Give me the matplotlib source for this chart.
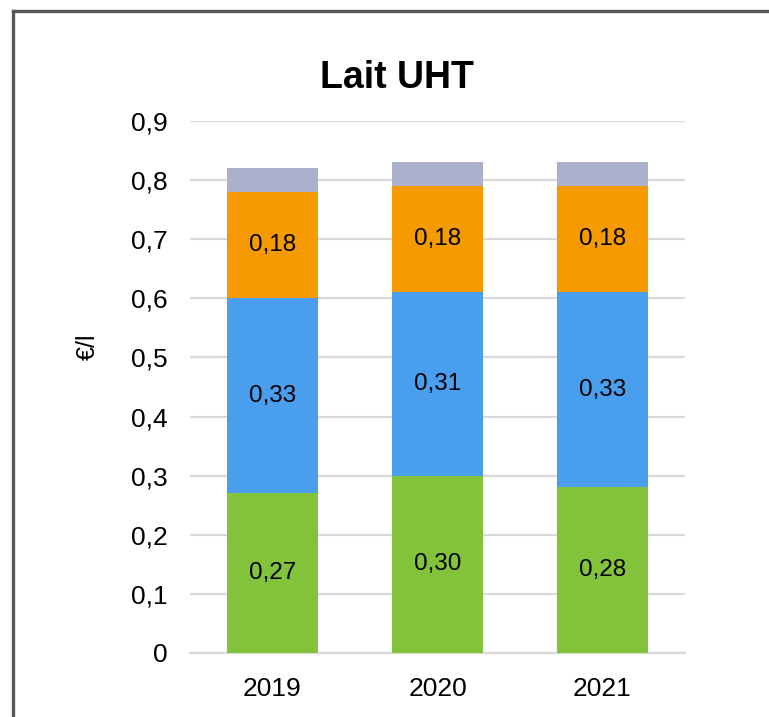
import matplotlib
matplotlib.use("Agg")
import matplotlib.pyplot as plt
from matplotlib.lines import Line2D
import numpy as np

plt.rcParams['font.family'] = ['Liberation Sans', 'DejaVu Sans']

years = ["2019", "2020", "2021"]
green_vals = [0.27, 0.30, 0.28]
blue_vals = [0.33, 0.31, 0.33]
orange_vals = [0.18, 0.18, 0.18]
gray_vals = [0.04, 0.04, 0.04]
tick_vals = [0, 0.1, 0.2, 0.3, 0.4, 0.5, 0.6, 0.7, 0.8, 0.9]
tick_labels = ["0", "0,1", "0,2", "0,3", "0,4", "0,5", "0,6", "0,7", "0,8", "0,9"]

series = [
    (green_vals, "#82C33B", True),
    (blue_vals, "#4A9EEE", True),
    (orange_vals, "#F59A00", True),
    (gray_vals, "#ABB0CC", False),
]

fig = plt.figure(figsize=(7.69, 7.17), dpi=100)
ax = fig.add_axes([190/769, 1-653/717, (685-190)/769, (653-121)/717])

x = np.arange(len(years))
bottom = np.zeros(len(years))
for vals, color, labelled in series:
    vals = np.array(vals)
    ax.bar(x, vals, width=0.555, bottom=bottom, color=color, zorder=3)
    if labelled:
        for xi, b, v in zip(x, bottom, vals):
            ax.text(xi, b + v/2, f"{v:.2f}".replace(".", ","), ha="center", va="center",
                    fontsize=17.5, color="black", zorder=4)
    bottom = bottom + vals

ax.set_xlim(-0.5, 2.5)
ax.set_ylim(0, 0.9)
ax.set_yticks(tick_vals)
ax.set_yticklabels(tick_labels, fontsize=19)
ax.set_xticks(x)
ax.set_xticklabels(years, fontsize=19)
ax.tick_params(axis='y', length=0, pad=16)
ax.tick_params(axis='x', length=0, pad=17)
ax.yaxis.grid(True, color="#D9D9D9", linewidth=1.6, zorder=0)
for s in ["top", "right", "left"]:
    ax.spines[s].set_visible(False)
ax.spines["bottom"].set_color("#D9D9D9")
ax.spines["bottom"].set_linewidth(1.6)

fig.text(88/769, 1-347/717, "€/l", rotation=90, ha="center", va="center", fontsize=18)
fig.text(397/769, 1-78/717, "Lait UHT", ha="center", va="center", fontsize=27, fontweight="bold")

# border on left and top
fig.add_artist(Line2D([12.5/769, 12.5/769], [0, 1-10.5/717], color="#585858", linewidth=2.4, transform=fig.transFigure))
fig.add_artist(Line2D([12.5/769, 1], [1-10.5/717, 1-10.5/717], color="#585858", linewidth=2.4, transform=fig.transFigure))

fig.savefig("out.png", dpi=100)
